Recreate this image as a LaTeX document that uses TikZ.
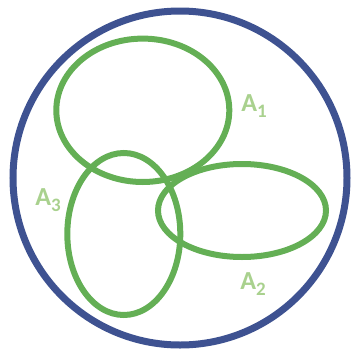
\documentclass[tikz,border=0pt]{standalone}
\usepackage{fontspec}
\setmainfont{Carlito}
\definecolor{bluec}{RGB}{62,82,145}
\definecolor{greenc}{RGB}{100,175,85}
\definecolor{lightg}{RGB}{169,209,142}
\newcommand{\lbl}[1]{\fontsize{26}{26}\selectfont\bfseries A\raisebox{-6pt}{\fontsize{19}{19}\selectfont\bfseries #1}}
\begin{document}
\begin{tikzpicture}[x=1pt,y=-1pt,
  outer/.style={draw=bluec,line width=7pt},
  setc/.style={draw=greenc,line width=6pt},
  setlbl/.style={text=lightg,inner sep=0pt}]
\useasboundingbox (0,0) rectangle (353,351);
\path[outer] (180,178) circle (167);
\path[setc] (142.8,110.3) ellipse [x radius=86.5, y radius=71.7];
\path[setc] (242,210.5) ellipse [x radius=84, y radius=46.5];
\path[setc] (123.8,234) ellipse [x radius=56.5, y radius=81];
\node[setlbl] (a1) at (254,106) {\lbl{1}};
\node[setlbl] (a2) at (253,284) {\lbl{2}};
\node[setlbl] (a3) at (48,200) {\lbl{3}};
\end{tikzpicture}
\end{document}
